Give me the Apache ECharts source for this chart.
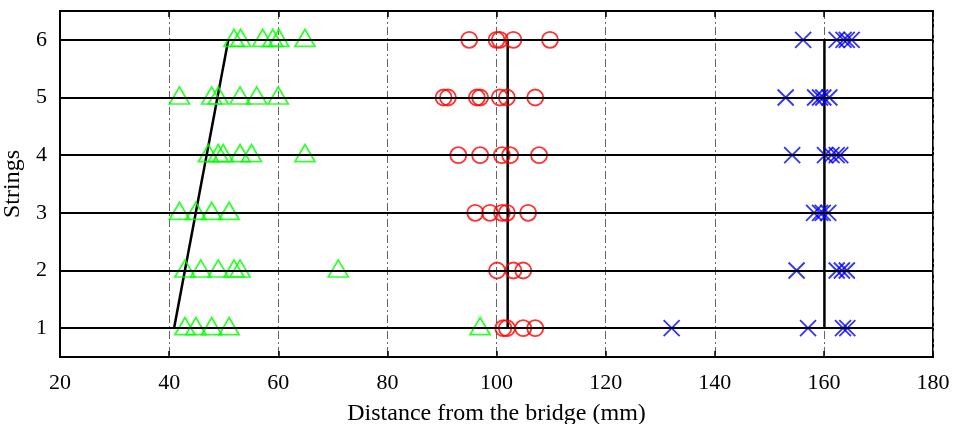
<!DOCTYPE html>
<html>
<head>
<meta charset="utf-8">
<script src="https://cdn.jsdelivr.net/npm/echarts@6/dist/echarts.min.js"></script>
<style>html,body{margin:0;padding:0;background:#fff}#c{width:953px;height:424px}</style>
</head>
<body>
<div id="c"></div>
<script>
// Strings (y positions)
const strings = [1, 2, 3, 4, 5, 6];
const xTicks = [20, 40, 60, 80, 100, 120, 140, 160, 180];
// distances (mm), one list per string 1..6
const greenDist = [
  [42.9, 44.9, 47.8, 51.0, 97.0],
  [42.9, 45.8, 49.0, 51.9, 53.0, 71.0],
  [41.9, 44.9, 47.8, 51.0],
  [47.2, 49.0, 49.9, 53.0, 55.1, 64.9],
  [41.9, 47.8, 49.0, 53.0, 56.05, 60.0],
  [51.9, 53.1, 57.15, 59.0, 60.1, 64.9]
];
const redDist = [
  [101.25, 101.9, 104.9, 107.1],
  [100.1, 103.1, 104.9],
  [96.1, 98.8, 101.0, 101.9, 105.8],
  [93.0, 97.0, 101.0, 102.5, 107.8],
  [90.3, 91.1, 96.4, 97.0, 100.6, 101.9, 107.1],
  [95.0, 100.0, 100.6, 103.1, 109.8]
];
const blueDist = [
  [132.1, 157.1, 163.5, 164.3],
  [155.0, 162.35, 163.3, 164.2],
  [158.2, 159.3, 159.8, 160.8],
  [154.2, 160.2, 161.4, 162.35, 163.0],
  [153.0, 158.4, 159.3, 159.9, 161.0],
  [156.2, 162.35, 163.6, 164.2, 165.1]
];
// fitted lines: x at string 1 and string 6
const fitStrings = [1, 6];
const greenFit = [40.9, 50.85];
const redFit = [102.05, 102.05];
const blueFit = [160.1, 160.1];

function pts(rows) {
  const out = [];
  rows.forEach((r, i) => r.forEach(x => out.push([x, strings[i]])));
  return out;
}
function fit(xs) { return xs.map((x, i) => [x, fitStrings[i]]); }

const font = 'Liberation Serif';
const chart = echarts.init(document.getElementById('c'), null, {renderer: 'canvas'});
chart.setOption({
  animation: false,
  backgroundColor: '#fff',
  grid: {left: 60, right: 20, top: 11, bottom: 67, outerBoundsMode: 'none', containLabel: false,
    show: true, borderColor: '#000', borderWidth: 2, backgroundColor: 'transparent'},
  xAxis: [{
    type: 'value', min: 20, max: 180, interval: 20,
    name: 'Distance from the bridge (mm)', nameLocation: 'middle', nameGap: 45,
    nameTextStyle: {fontFamily: font, fontSize: 24, color: '#000'},
    axisLine: {show: true, lineStyle: {color: '#000', width: 2}},
    axisTick: {show: true, inside: true, length: 6, lineStyle: {color: '#000', width: 1.5}},
    axisLabel: {fontFamily: font, fontSize: 22, color: '#000', margin: 15},
    splitLine: {show: true, lineStyle: {color: '#666', width: 1, type: [8, 3, 2, 3]}}
  }, {
    type: 'value', min: 20, max: 180, interval: 20, position: 'top',
    axisLine: {show: true, lineStyle: {color: '#000', width: 2}},
    axisTick: {show: true, inside: true, length: 6, lineStyle: {color: '#000', width: 1.5}},
    axisLabel: {show: false}, splitLine: {show: false}
  }],
  yAxis: {
    type: 'value', min: 0.5, max: 6.5,
    name: 'Strings', nameLocation: 'middle', nameGap: 29,
    nameTextStyle: {fontFamily: font, fontSize: 24, color: '#000'},
    axisLine: {show: true, lineStyle: {color: '#000', width: 2}},
    axisTick: {show: true, inside: true, length: 6, customValues: strings, lineStyle: {color: '#000'}},
    axisLabel: {fontFamily: font, fontSize: 22, color: '#000', margin: 13, customValues: strings},
    splitLine: {show: false}
  },
  series: [
    {
      type: 'line', data: [], silent: true,
      markLine: {
        silent: true, symbol: 'none', label: {show: false}, animation: false,
        lineStyle: {color: '#000', width: 2, type: 'solid'},
        data: strings.map(s => ({yAxis: s}))
      }
    },
    {type: 'line', data: fit(greenFit), symbol: 'none', lineStyle: {color: '#000', width: 2.5}, z: 3},
    {type: 'line', data: fit(redFit), symbol: 'none', lineStyle: {color: '#000', width: 2.5}, z: 3},
    {type: 'line', data: fit(blueFit), symbol: 'none', lineStyle: {color: '#000', width: 2.5}, z: 3},
    {
      type: 'scatter', data: pts(greenDist), symbol: 'triangle', symbolSize: [20, 17], symbolOffset: [0, -2],
      itemStyle: {color: 'transparent', borderColor: '#00ff00', borderWidth: 1.8}, z: 4
    },
    {
      type: 'scatter', data: pts(redDist), symbol: 'circle', symbolSize: 16,
      itemStyle: {color: 'transparent', borderColor: '#ff0000', borderWidth: 1.8}, z: 4
    },
    {
      type: 'scatter', data: pts(blueDist), symbol: 'path://M0,0L10,10M10,0L0,10', symbolSize: 16,
      itemStyle: {color: 'transparent', borderColor: '#0000ff', borderWidth: 1.8}, z: 4
    }
  ]
});
</script>
</body>
</html>
